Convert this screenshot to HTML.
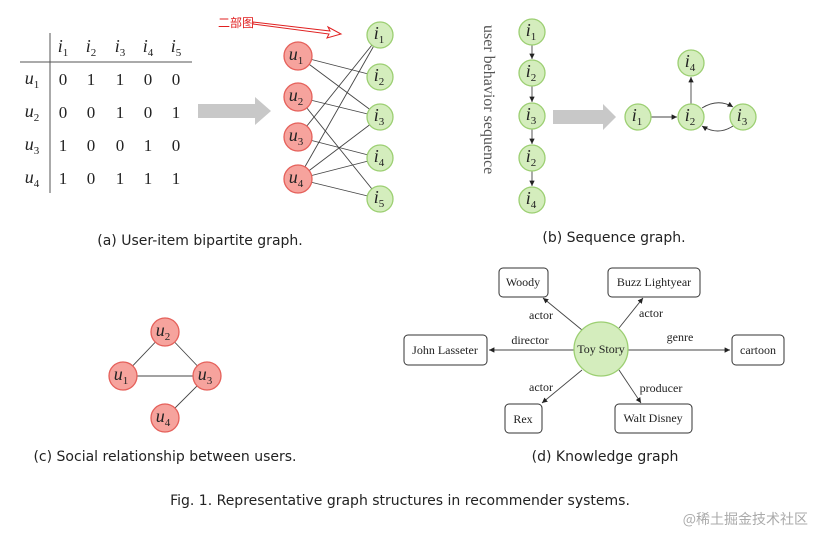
<!DOCTYPE html>
<html><head><style>
html,body{margin:0;padding:0;background:#fff}
svg{display:block}
.m{font-family:"Liberation Serif",serif;font-style:italic;font-size:18px;fill:#222}
.n{font-family:"Liberation Serif",serif;font-size:17px;fill:#222}
.cap{font-family:"DejaVu Sans","Liberation Sans",sans-serif;font-size:14px;fill:#222}
.s{font-family:"Liberation Serif",serif;font-size:12px;fill:#222}
.sub{font-size:11px;font-style:normal}
.r{fill:#f6a39d;stroke:#e5605a;stroke-width:1.3}
.g{fill:#d4edbd;stroke:#9ccf72;stroke-width:1.3}
.e{stroke:#444;stroke-width:0.9;fill:none}
.b{fill:#fff;stroke:#333;stroke-width:1;rx:4}
</style></head><body>
<svg width="826" height="545" viewBox="0 0 826 545" xmlns="http://www.w3.org/2000/svg">
<defs>
<marker id="ah" markerWidth="7" markerHeight="7" refX="6" refY="3" orient="auto"><path d="M0,0 L6,3 L0,6 z" fill="#222"/></marker>
</defs>
<line x1="50" y1="33" x2="50" y2="193" stroke="#555"/>
<line x1="20" y1="62" x2="192" y2="62" stroke="#555"/>
<g class="m" text-anchor="middle">
<text x="63" y="52">i<tspan class="sub" dy="4">1</tspan></text>
<text x="91" y="52">i<tspan class="sub" dy="4">2</tspan></text>
<text x="120" y="52">i<tspan class="sub" dy="4">3</tspan></text>
<text x="148" y="52">i<tspan class="sub" dy="4">4</tspan></text>
<text x="176" y="52">i<tspan class="sub" dy="4">5</tspan></text>
<text x="32" y="84">u<tspan class="sub" dy="4">1</tspan></text>
<text x="32" y="117">u<tspan class="sub" dy="4">2</tspan></text>
<text x="32" y="150">u<tspan class="sub" dy="4">3</tspan></text>
<text x="32" y="183">u<tspan class="sub" dy="4">4</tspan></text>
</g>
<g class="n" text-anchor="middle">
<text x="63" y="85">0</text><text x="91" y="85">1</text><text x="120" y="85">1</text><text x="148" y="85">0</text><text x="176" y="85">0</text>
<text x="63" y="118">0</text><text x="91" y="118">0</text><text x="120" y="118">1</text><text x="148" y="118">0</text><text x="176" y="118">1</text>
<text x="63" y="151">1</text><text x="91" y="151">0</text><text x="120" y="151">0</text><text x="148" y="151">1</text><text x="176" y="151">0</text>
<text x="63" y="184">1</text><text x="91" y="184">0</text><text x="120" y="184">1</text><text x="148" y="184">1</text><text x="176" y="184">1</text>
</g>
<path d="M198,104 H255 V97 L271,111 L255,125 V118 H198 Z" fill="#c8c8c8"/>
<g class="e">
<line x1="298" y1="56" x2="380" y2="77"/><line x1="298" y1="56" x2="380" y2="117"/>
<line x1="298" y1="97" x2="380" y2="117"/><line x1="298" y1="97" x2="380" y2="199"/>
<line x1="298" y1="137" x2="380" y2="35"/><line x1="298" y1="137" x2="380" y2="158"/>
<line x1="298" y1="179" x2="380" y2="35"/><line x1="298" y1="179" x2="380" y2="117"/>
<line x1="298" y1="179" x2="380" y2="158"/><line x1="298" y1="179" x2="380" y2="199"/>
</g>
<g><circle class="r" cx="298" cy="56" r="14"/><circle class="r" cx="298" cy="97" r="14"/><circle class="r" cx="298" cy="137" r="14"/><circle class="r" cx="298" cy="179" r="14"/>
<circle class="g" cx="380" cy="35" r="13"/><circle class="g" cx="380" cy="77" r="13"/><circle class="g" cx="380" cy="117" r="13"/><circle class="g" cx="380" cy="158" r="13"/><circle class="g" cx="380" cy="199" r="13"/></g>
<g class="m" text-anchor="middle">
<text x="296" y="60">u<tspan class="sub" dy="4">1</tspan></text><text x="296" y="101">u<tspan class="sub" dy="4">2</tspan></text><text x="296" y="141">u<tspan class="sub" dy="4">3</tspan></text><text x="296" y="183">u<tspan class="sub" dy="4">4</tspan></text>
<text x="379" y="39">i<tspan class="sub" dy="4">1</tspan></text><text x="379" y="81">i<tspan class="sub" dy="4">2</tspan></text><text x="379" y="121">i<tspan class="sub" dy="4">3</tspan></text><text x="379" y="162">i<tspan class="sub" dy="4">4</tspan></text><text x="379" y="203">i<tspan class="sub" dy="4">5</tspan></text>
</g>
<text x="218" y="27" font-family="'Noto Sans CJK SC',sans-serif" font-size="12" fill="#e02020">二部图</text>
<path d="M253,22 L330,31 L328,27 L341,34 L327,38 L329,34 L253,24 Z" fill="none" stroke="#e02020" stroke-width="1"/>
<text class="cap" x="200" y="245" text-anchor="middle">(a) User-item bipartite graph.</text>
<text x="0" y="0" transform="translate(484,25) rotate(90)" font-family="'Liberation Serif',serif" font-size="16" fill="#555">user behavior sequence</text>
<g class="e" marker-end="url(#ah)">
<line x1="532" y1="45" x2="532" y2="59"/><line x1="532" y1="86" x2="532" y2="102"/><line x1="532" y1="129" x2="532" y2="144"/><line x1="532" y1="171" x2="532" y2="186"/>
<line x1="651" y1="117" x2="677" y2="117"/><line x1="691" y1="104" x2="691" y2="77"/>
<path d="M702,108 Q718,98 733,107"/><path d="M733,126 Q718,136 702,126"/>
</g>
<g><circle class="g" cx="532" cy="32" r="13"/><circle class="g" cx="532" cy="73" r="13"/><circle class="g" cx="532" cy="116" r="13"/><circle class="g" cx="532" cy="158" r="13"/><circle class="g" cx="532" cy="200" r="13"/>
<circle class="g" cx="638" cy="117" r="13"/><circle class="g" cx="691" cy="117" r="13"/><circle class="g" cx="743" cy="117" r="13"/><circle class="g" cx="691" cy="63" r="13"/></g>
<g class="m" text-anchor="middle">
<text x="531" y="36">i<tspan class="sub" dy="4">1</tspan></text><text x="531" y="77">i<tspan class="sub" dy="4">2</tspan></text><text x="531" y="120">i<tspan class="sub" dy="4">3</tspan></text><text x="531" y="162">i<tspan class="sub" dy="4">2</tspan></text><text x="531" y="204">i<tspan class="sub" dy="4">4</tspan></text>
<text x="637" y="121">i<tspan class="sub" dy="4">1</tspan></text><text x="690" y="121">i<tspan class="sub" dy="4">2</tspan></text><text x="742" y="121">i<tspan class="sub" dy="4">3</tspan></text><text x="690" y="67">i<tspan class="sub" dy="4">4</tspan></text>
</g>
<path d="M553,110 H603 V104 L616,117 L603,130 V124 H553 Z" fill="#c8c8c8"/>
<text class="cap" x="614" y="242" text-anchor="middle">(b) Sequence graph.</text>
<g class="e"><line x1="165" y1="332" x2="123" y2="376"/><line x1="165" y1="332" x2="207" y2="376"/><line x1="123" y1="376" x2="207" y2="376"/><line x1="207" y1="376" x2="165" y2="418"/></g>
<circle class="r" cx="165" cy="332" r="14"/><circle class="r" cx="123" cy="376" r="14"/><circle class="r" cx="207" cy="376" r="14"/><circle class="r" cx="165" cy="418" r="14"/>
<g class="m" text-anchor="middle">
<text x="163" y="336">u<tspan class="sub" dy="4">2</tspan></text><text x="121" y="380">u<tspan class="sub" dy="4">1</tspan></text><text x="205" y="380">u<tspan class="sub" dy="4">3</tspan></text><text x="163" y="422">u<tspan class="sub" dy="4">4</tspan></text>
</g>
<text class="cap" x="165" y="461" text-anchor="middle">(c) Social relationship between users.</text>
<g class="e" marker-end="url(#ah)">
<line x1="582" y1="330" x2="543" y2="298"/><line x1="619" y1="328" x2="643" y2="298"/>
<line x1="574" y1="350" x2="489" y2="350"/><line x1="628" y1="350" x2="730" y2="350"/>
<line x1="582" y1="370" x2="542" y2="403"/><line x1="619" y1="370" x2="641" y2="403"/>
</g>
<circle class="g" cx="601" cy="349" r="27"/>
<rect class="b" x="499" y="268" width="49" height="29"/><rect class="b" x="608" y="268" width="92" height="29"/>
<rect class="b" x="404" y="335" width="83" height="30"/><rect class="b" x="732" y="335" width="52" height="30"/>
<rect class="b" x="505" y="404" width="37" height="29"/><rect class="b" x="615" y="404" width="77" height="29"/>
<g class="s" text-anchor="middle">
<text x="601" y="353">Toy Story</text>
<text x="523" y="286">Woody</text><text x="654" y="286">Buzz Lightyear</text>
<text x="445" y="354">John Lasseter</text><text x="758" y="354">cartoon</text>
<text x="523" y="423">Rex</text><text x="653" y="422">Walt Disney</text>
<text x="541" y="319">actor</text><text x="651" y="317">actor</text>
<text x="530" y="344">director</text><text x="680" y="341">genre</text>
<text x="541" y="391">actor</text><text x="661" y="392">producer</text>
</g>
<text class="cap" x="605" y="461" text-anchor="middle">(d) Knowledge graph</text>
<text class="cap" x="400" y="505" text-anchor="middle">Fig. 1.  Representative graph structures in recommender systems.</text>
<text x="808" y="524" text-anchor="end" font-family="'Noto Sans CJK SC',sans-serif" font-size="14" fill="#aaa">@稀土掘金技术社区</text>
</svg>
</body></html>
